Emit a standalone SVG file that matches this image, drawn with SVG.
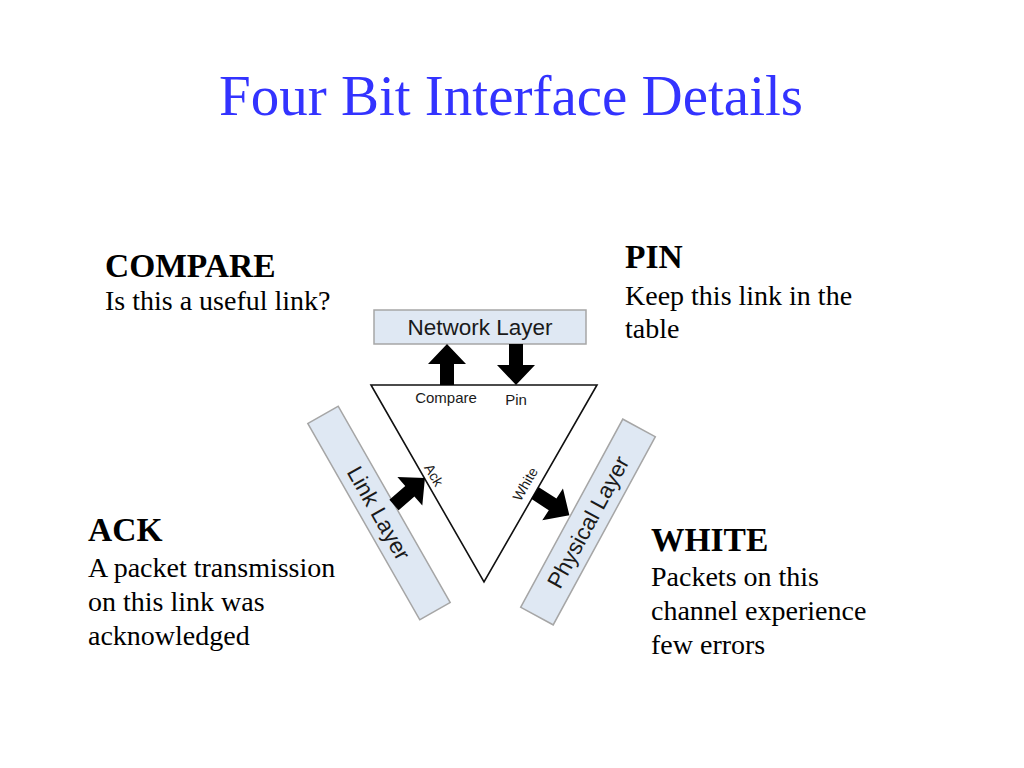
<svg xmlns="http://www.w3.org/2000/svg" xmlns:xlink="http://www.w3.org/1999/xlink" width="1024" height="768" viewBox="0 0 1024 768">
<style>
.title{font-family:"Liberation Serif","Times New Roman",serif;font-size:57px;fill:#3333ff}
.head{font-family:"Liberation Serif","Times New Roman",serif;font-size:33.5px;font-weight:bold;fill:#000}
.body{font-family:"Liberation Serif","Times New Roman",serif;font-size:28px;fill:#000}
.box{fill:#dfe8f3;stroke:#a6a6a6;stroke-width:1.5}
.lbl{font-family:"Liberation Sans",Arial,sans-serif;font-size:22.5px;fill:#1a1a1a;text-anchor:middle}
.small{font-family:"Liberation Sans",Arial,sans-serif;font-size:15px;fill:#1a1a1a;text-anchor:middle}
.tri{fill:#fff;stroke:#111;stroke-width:1.6}
.arr{fill:#000}
</style>
<defs>
<path id="blockArrow" d="M0,-7 H21 V-19 L41,0 L21,19 V7 H0 Z"/>
</defs>
<rect width="1024" height="768" fill="#fff"/>
<text class="title" x="511" y="115" text-anchor="middle">Four Bit Interface Details</text>

<g id="compare-text">
<text class="head" x="105" y="277">COMPARE</text>
<text class="body" x="105" y="310">Is this a useful link?</text>
</g>
<g id="pin-text">
<text class="head" x="625" y="268">PIN</text>
<text class="body" x="625" y="305">Keep this link in the</text>
<text class="body" x="625" y="338">table</text>
</g>
<g id="ack-text">
<text class="head" x="88" y="541">ACK</text>
<text class="body" x="88" y="577">A packet transmission</text>
<text class="body" x="88" y="611">on this link was</text>
<text class="body" x="88" y="645">acknowledged</text>
</g>
<g id="white-text">
<text class="head" x="651" y="551">WHITE</text>
<text class="body" x="651" y="586">Packets on this</text>
<text class="body" x="651" y="620">channel experience</text>
<text class="body" x="651" y="654">few errors</text>
</g>

<g id="network-layer">
<rect class="box" x="374" y="310" width="212" height="34"/>
<text class="lbl" x="480" y="335">Network Layer</text>
</g>
<g id="link-layer" transform="translate(379,513) rotate(60.3)">
<rect class="box" x="-113" y="-17.5" width="226" height="35"/>
<text class="lbl" x="0" y="8">Link Layer</text>
</g>
<g id="physical-layer" transform="translate(588,522) rotate(-61.5)">
<rect class="box" x="-107" y="-18.5" width="214" height="37"/>
<text class="lbl" x="0" y="8">Physical Layer</text>
</g>

<g id="triangle">
<polygon class="tri" points="371,385 597,385 484,582"/>
<text class="small" x="446" y="403">Compare</text>
<text class="small" x="516" y="405">Pin</text>
<text class="small" transform="translate(434,475) rotate(60)" x="0" y="5" style="font-size:14px">Ack</text>
<text class="small" transform="translate(525,484) rotate(-60)" x="0" y="5" style="font-size:14px">White</text>
</g>

<g id="connectors">
<use xlink:href="#blockArrow" class="arr" transform="translate(447,385) rotate(-90)"/>
<use xlink:href="#blockArrow" class="arr" transform="translate(516,344) rotate(90)"/>
<use xlink:href="#blockArrow" class="arr" transform="translate(394,505) rotate(-41)"/>
<use xlink:href="#blockArrow" class="arr" transform="translate(535,493) rotate(33)"/>
</g>
</svg>
